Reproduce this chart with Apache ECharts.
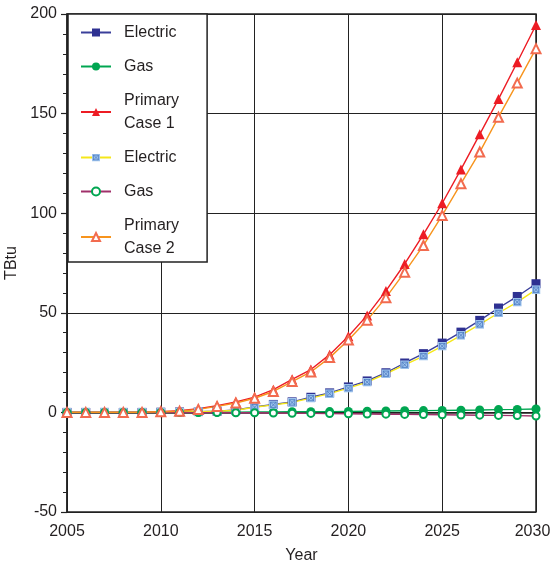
<!DOCTYPE html>
<html>
<head>
<meta charset="utf-8">
<script src="https://cdn.jsdelivr.net/npm/echarts@6/dist/echarts.min.js"></script>
<style>
html,body{margin:0;padding:0;background:#fff;}
#chart{width:552px;height:567px;}
</style>
</head>
<body>
<div id="chart"></div>
<script>
const years = [2005,2006,2007,2008,2009,2010,2011,2012,2013,2014,2015,2016,2017,2018,2019,2020,2021,2022,2023,2024,2025,2026,2027,2028,2029,2030];
const electric1 = [0,0,0,0,0,0.1,0.2,0.4,0.6,1.2,2.8,4.0,5.3,7.6,9.8,12.8,15.8,19.9,24.8,29.5,34.8,40.3,46.2,52.4,58.2,64.6];
const gas1 = [0,0,0,0,0,0,0,0.1,0.1,0.1,0.2,0.2,0.3,0.3,0.4,0.5,0.6,0.7,0.8,0.9,1.0,1.1,1.2,1.4,1.5,1.7];
const primary1 = [0,0,0,0,0,0.4,0.8,1.8,3.4,5.2,7.7,11.4,16.6,21.5,29,38.2,48.7,61,74.5,89.4,105,122,139.6,157.3,175.8,194.5];
const electric2 = [0,0,0,0,0,0.1,0.2,0.4,0.6,1.1,2.6,3.8,5.0,7.2,9.4,12.2,15.2,19.4,23.9,28.3,33.3,38.7,44.2,49.9,55.4,61.6];
const gas2 = [0,0,0,0,0,0,0,-0.1,-0.1,-0.2,-0.2,-0.3,-0.4,-0.5,-0.6,-0.7,-0.8,-0.9,-1.0,-1.1,-1.2,-1.3,-1.4,-1.5,-1.6,-1.8];
const primary2 = [0,0,0,0,0,0.3,0.6,1.5,3,4.7,7.1,10.5,15.5,20.3,27.5,36.3,46.3,57.6,70.4,83.8,98.9,114.8,130.7,148.2,165.3,182.6];
const seriesNames = ['Electric 1','Gas 1','Primary Case 1','Electric 2','Gas 2','Primary Case 2'];
const legendLabels = {'Electric 1':'Electric','Gas 1':'Gas','Primary Case 1':'Primary\nCase 1','Electric 2':'Electric','Gas 2':'Gas','Primary Case 2':'Primary\nCase 2'};

const pair = arr => years.map((y,i)=>[y,arr[i]]);
const hatchSvg = "<svg xmlns='http://www.w3.org/2000/svg' width='20' height='20'><rect width='20' height='20' fill='#9cc2ec'/><rect x='4' y='4' width='12' height='12' fill='none' stroke='#4a78c0' stroke-width='1.6'/><path d='M4 4L16 16M16 4L4 16' stroke='#4a78c0' stroke-width='1.6'/></svg>";
const hatchSymbol = 'image://data:image/svg+xml;charset=utf-8,' + encodeURIComponent(hatchSvg);

const font = 'Liberation Sans, Arial, sans-serif';
const chart = echarts.init(document.getElementById('chart'));
function mk(name, data, lineColor, symbol, symColor, size){
  return {
    name, type:'line', data: pair(data), symbol, symbolSize:size,
    showAllSymbol:true,
    lineStyle:{color:lineColor,width:1.4},
    itemStyle:{color:symColor,borderWidth:1.3},
    emphasis:{disabled:true}, animation:false
  };
}
chart.setOption({
  backgroundColor:'#fff',
  animation:false,
  textStyle:{fontFamily:font},
  grid:{left:67,right:16,top:14,bottom:55,outerBoundsMode:'none',containLabel:false,show:true,borderColor:'#222',borderWidth:1.5,backgroundColor:'transparent'},
  legend:{
    orient:'vertical', left:68, top:14,
    data: seriesNames,
    backgroundColor:'#fff', borderColor:'#222', borderWidth:1.5,
    padding:[7,28,2,12], itemGap:11, itemWidth:30, itemHeight:10,
    formatter: n => legendLabels[n],
    textStyle:{fontSize:16,lineHeight:23,color:'#231f20',fontFamily:font,padding:[0,0,0,8]},
    selectedMode:false
  },
  xAxis:{
    type:'value', min:2005, max:2030, interval:5,
    name:'Year', nameLocation:'middle', nameGap:36,
    nameTextStyle:{fontSize:16,color:'#231f20'},
    axisLine:{show:true,lineStyle:{color:'#222',width:1.5}},
    axisTick:{show:true,inside:false,length:6,lineStyle:{color:'#222',width:1.2}},
    minorTick:{show:true,splitNumber:5,length:4,lineStyle:{color:'#222',width:1}},
    splitLine:{show:true,lineStyle:{color:'#222',width:1}},
    axisLabel:{fontSize:16,color:'#231f20',margin:12,
      formatter:v=> v===2030 ? '{e|2030}' : String(v),
      rich:{e:{fontSize:16,color:'#231f20',fontFamily:font,padding:[0,7,0,0]}}}
  },
  yAxis:{
    type:'value', min:-50, max:200, interval:50,
    name:'TBtu', nameLocation:'middle', nameGap:37,
    nameTextStyle:{fontSize:16,color:'#231f20'},
    axisLine:{show:true,onZero:false,lineStyle:{color:'#222',width:1.5}},
    axisTick:{show:true,inside:false,length:6,lineStyle:{color:'#222',width:1.2}},
    minorTick:{show:true,splitNumber:5,length:4,lineStyle:{color:'#222',width:1}},
    splitLine:{show:true,lineStyle:{color:'#222',width:1}},
    axisLabel:{fontSize:16,color:'#231f20',margin:10}
  },
  series:[
    mk('Electric 1', electric1, '#3a3f9a', 'rect', '#2e3192', 9),
    mk('Gas 1', gas1, '#00a651', 'circle', '#00a651', 9),
    mk('Primary Case 1', primary1, '#ed1c24', 'triangle', '#ed1c24', 10),
    mk('Electric 2', electric2, '#f5e71a', hatchSymbol, '#9cc2ec', 9),
    mk('Gas 2', gas2, '#a0306a', 'emptyCircle', '#00a651', 7),
    mk('Primary Case 2', primary2, '#f7941d', 'emptyTriangle', '#f26b4f', 9)
  ]
});
</script>
</body>
</html>
